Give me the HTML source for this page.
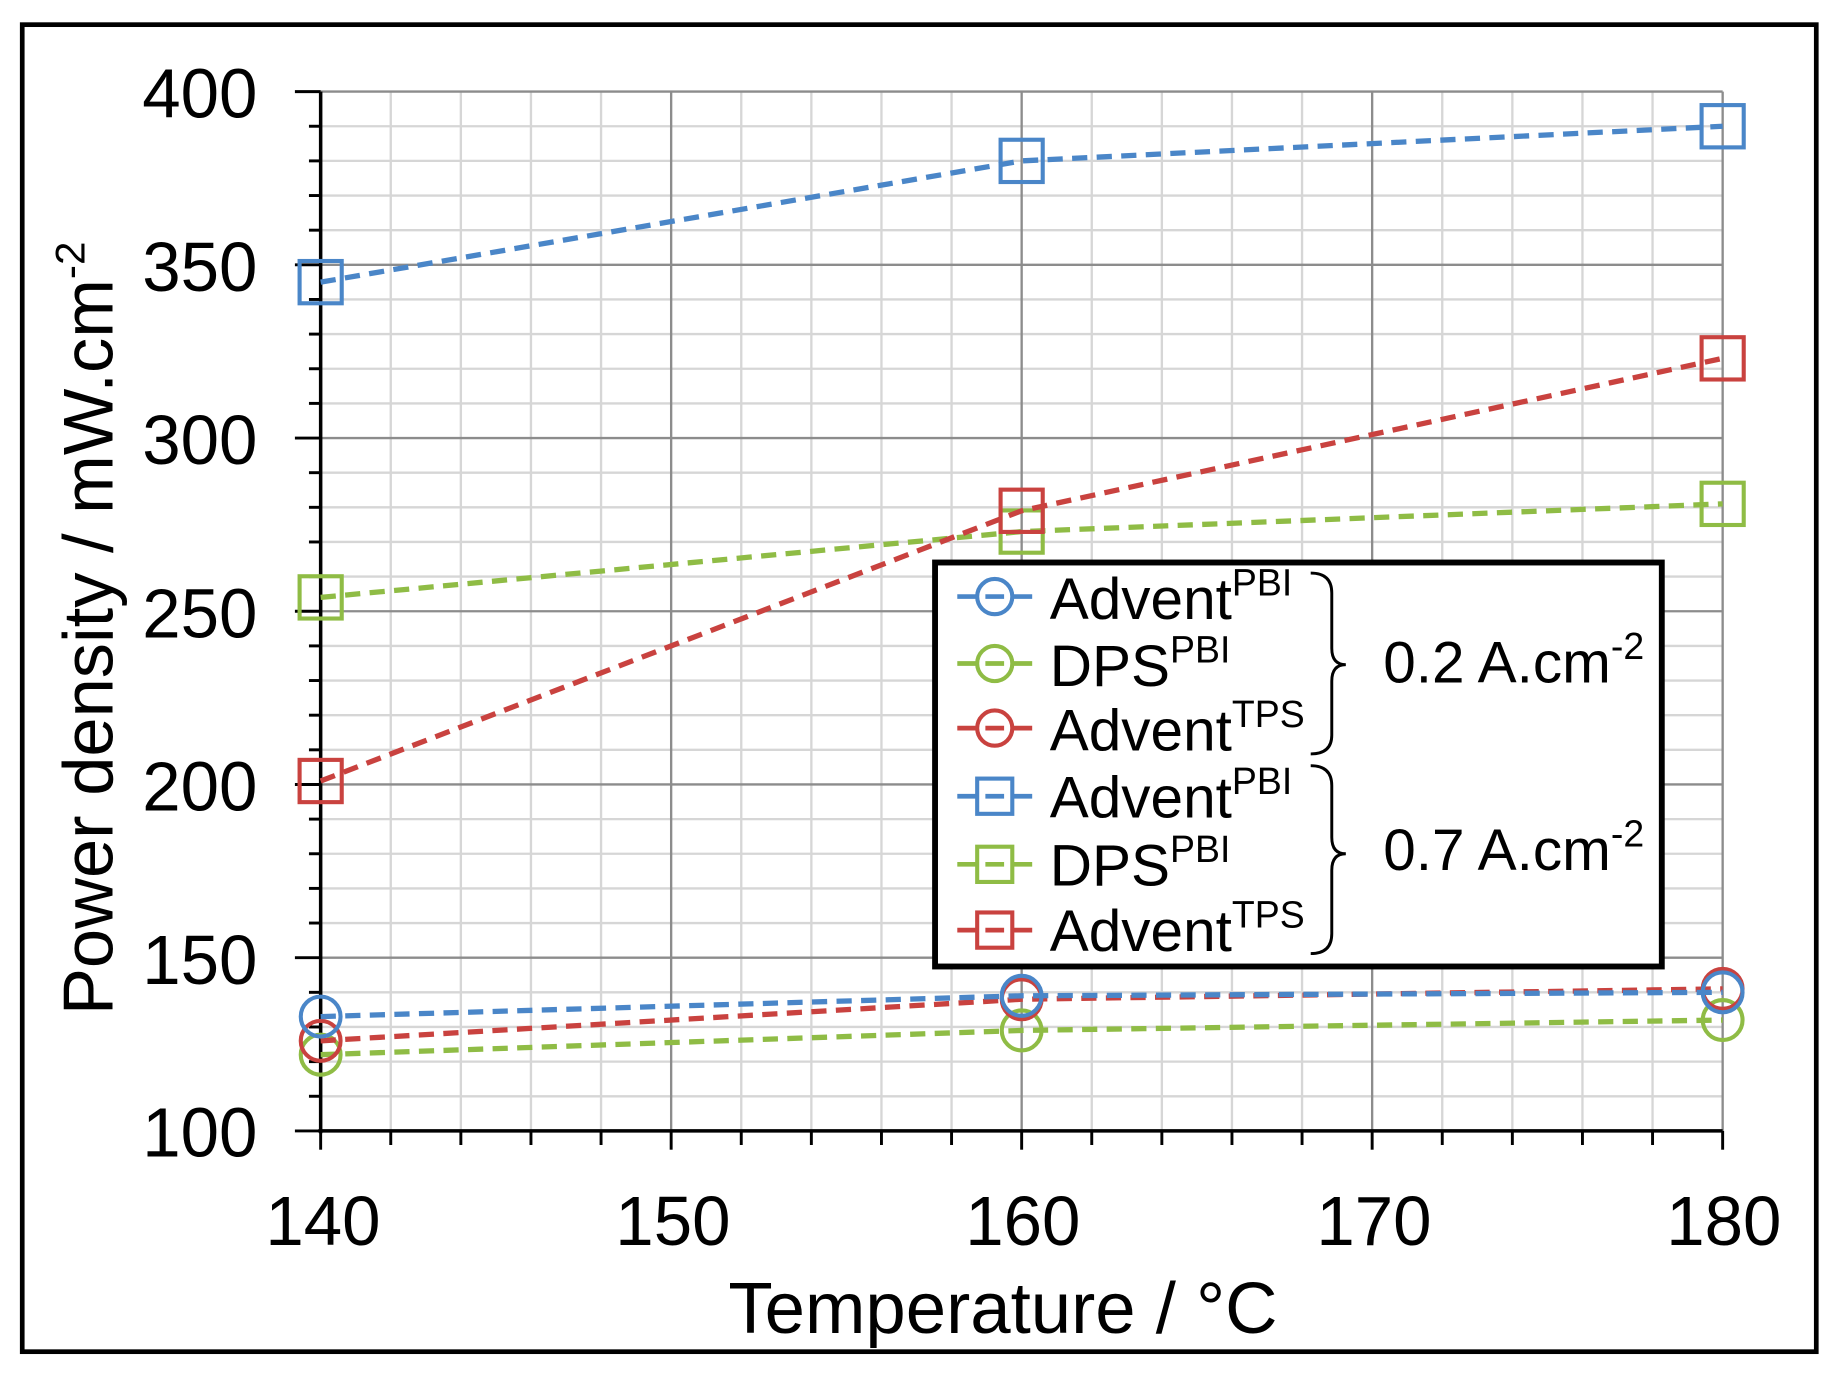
<!DOCTYPE html>
<html><head><style>html,body{margin:0;padding:0;background:#fff}svg{display:block}</style></head>
<body>
<svg width="1835" height="1374" viewBox="0 0 1568 1170" preserveAspectRatio="none" xmlns="http://www.w3.org/2000/svg" font-family="Liberation Sans, sans-serif">
<rect x="0" y="0" width="1568" height="1170" fill="#fff"/>
<rect x="19" y="21" width="1533" height="1130" fill="none" stroke="#000" stroke-width="4"/>
<g id="grid"></g>
<g id="ser"></g>
<g font-size="59" text-anchor="end" fill="#000">
<text x="220" y="100">400</text><text x="220" y="248">350</text><text x="220" y="395">300</text>
<text x="220" y="543">250</text><text x="220" y="690">200</text><text x="220" y="838">150</text><text x="220" y="985">100</text>
</g>
<g font-size="59" text-anchor="middle">
<text x="276" y="1060">140</text><text x="575" y="1060">150</text><text x="874" y="1060">160</text><text x="1174" y="1060">170</text><text x="1473" y="1060">180</text>
<text x="857" y="1135" font-size="62">Temperature / °C</text>
</g>
<text transform="translate(96,535) rotate(-90)" font-size="60" text-anchor="middle">Power density / mW.cm<tspan font-size="36" dy="-24">-2</tspan></text>
<rect x="799" y="479" width="621" height="344" fill="#fff" stroke="#000" stroke-width="5"/>
<g id="leg"></g>
<g font-size="50" fill="#000">
<text x="897" y="527">Advent<tspan font-size="32" dy="-20">PBI</tspan></text>
<text x="897" y="584">DPS<tspan font-size="32" dy="-20">PBI</tspan></text>
<text x="897" y="639">Advent<tspan font-size="32" dy="-20">TPS</tspan></text>
<text x="897" y="696">Advent<tspan font-size="32" dy="-20">PBI</tspan></text>
<text x="897" y="754">DPS<tspan font-size="32" dy="-20">PBI</tspan></text>
<text x="897" y="810">Advent<tspan font-size="32" dy="-20">TPS</tspan></text>
<text x="1182" y="581">0.2 A.cm<tspan font-size="32" dy="-20">-2</tspan></text>
<text x="1182" y="741">0.7 A.cm<tspan font-size="32" dy="-20">-2</tspan></text>
</g>
<path d="M1120 488 Q1138 488 1138 505 L1138 552 Q1138 566 1150 566 Q1138 566 1138 580 L1138 626 Q1138 642 1120 642" fill="none" stroke="#000" stroke-width="2.5"/>
<path d="M1120 652 Q1138 652 1138 669 L1138 713 Q1138 727 1150 727 Q1138 727 1138 741 L1138 795 Q1138 812 1120 812" fill="none" stroke="#000" stroke-width="2.5"/>
<script>
const NS="http://www.w3.org/2000/svg";
function el(p,t,a){const e=document.createElementNS(NS,t);for(const k in a)e.setAttribute(k,a[k]);p.appendChild(e);return e;}
const g=document.getElementById('grid');
const L=274,R=1472,T=78,B=963;
const X=v=>L+(v-140)*(R-L)/40, Y=v=>B-(v-100)*(B-T)/300;
for(let v=110;v<400;v+=10){if(v%50)el(g,'line',{x1:L,x2:R,y1:Y(v),y2:Y(v),stroke:'#d6d6d6','stroke-width':2});}
for(let v=142;v<180;v+=2){if(v%10)el(g,'line',{x1:X(v),x2:X(v),y1:T,y2:B,stroke:'#d6d6d6','stroke-width':2});}
for(let v=150;v<=400;v+=50)el(g,'line',{x1:L,x2:R,y1:Y(v),y2:Y(v),stroke:'#8c8c8c','stroke-width':2});
for(let v=150;v<=180;v+=10)el(g,'line',{x1:X(v),x2:X(v),y1:T,y2:B,stroke:'#8c8c8c','stroke-width':2});
for(let v=100;v<=400;v+=10)el(g,'line',{x1:v%50?L-10:L-22,x2:L,y1:Y(v),y2:Y(v),stroke:'#000','stroke-width':2.5});
for(let v=140;v<=180;v+=2)el(g,'line',{x1:X(v),x2:X(v),y1:B,y2:v%10?B+12:B+16,stroke:'#000','stroke-width':2.5});
el(g,'line',{x1:L,x2:L,y1:T,y2:B+2,stroke:'#000','stroke-width':3});
el(g,'line',{x1:L-2,x2:R,y1:B,y2:B,stroke:'#000','stroke-width':3});
const s=document.getElementById('ser');
const C={b:'#4a86c8',g:'#8fbc45',r:'#c9423f'};
const data=[['c','g',[122,129,132]],['c','r',[126,138,141]],['c','b',[133,139,140]],
['s','g',[254,273,281]],['s','r',[201,279,323]],['s','b',[345,380,390]]];
function mk(p,type,col,x,y){if(type=='s')el(p,'rect',{x:x-18,y:y-18,width:36,height:36,fill:'none',stroke:col,'stroke-width':3.5});
else el(p,'circle',{cx:x,cy:y,r:17,fill:'none',stroke:col,'stroke-width':3.5});}
data.forEach(([t,c,v])=>{const xs=[140,160,180];
el(s,'polyline',{points:xs.map((x,i)=>X(x)+','+Y(v[i])).join(' '),fill:'none',stroke:C[c],'stroke-width':4.5,'stroke-dasharray':'13 8'});
xs.forEach((x,i)=>mk(s,t,C[c],X(x),Y(v[i])));});
const lg=document.getElementById('leg');
[[508,'c','b'],[565,'c','g'],[620,'c','r'],[678,'s','b'],[736,'s','g'],[792,'s','r']].forEach(([y,t,c])=>{
el(lg,'line',{x1:818,x2:882,y1:y,y2:y,stroke:C[c],'stroke-width':4});
if(t=='s')el(lg,'rect',{x:835,y:y-15,width:30,height:30,fill:'#fff',stroke:C[c],'stroke-width':3.5});
else el(lg,'circle',{cx:850,cy:y,r:15,fill:'#fff',stroke:C[c],'stroke-width':3.5});
el(lg,'line',{x1:842,x2:858,y1:y,y2:y,stroke:C[c],'stroke-width':4});});
</script>
</svg>
</body></html>
